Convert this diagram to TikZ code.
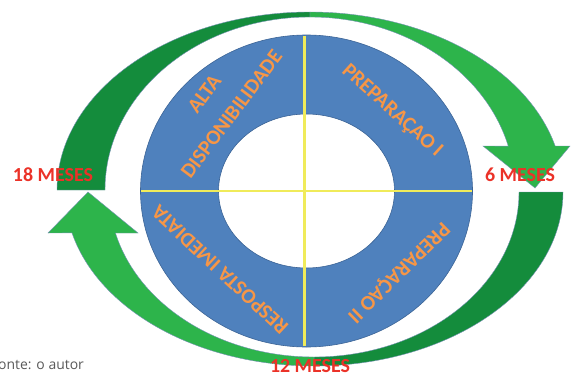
\documentclass[tikz,border=0pt]{standalone}
\usepackage{fontspec}
\newfontfamily\carlito{Carlito}
\newfontfamily\notefont{Open Sans}
\usepackage{tikz}
\usetikzlibrary{positioning, calc}
\definecolor{ringblue}{RGB}{79,129,189}
\definecolor{ringedge}{RGB}{60,100,150}
\definecolor{crossyellow}{RGB}{240,235,90}
\definecolor{phaseorange}{RGB}{247,150,70}
\definecolor{greendark}{RGB}{20,140,60}
\definecolor{greenlight}{RGB}{45,180,75}
\definecolor{monthred}{RGB}{235,50,40}
\tikzset{
  ringfill/.style={fill=ringblue,draw=ringedge,line width=0.6pt,even odd rule},
  crossline/.style={draw=crossyellow,line width=2.6pt},
  arrowdark/.style={fill=greendark,draw=ringedge!70,line width=0.4pt},
  arrowlight/.style={fill=greenlight,draw=ringedge!70,line width=0.4pt},
  phaselabel/.style={text=phaseorange,font=\carlito\bfseries\fontsize{21}{23}\selectfont,align=center,inner sep=0pt},
  monthlabel/.style={text=monthred,font=\carlito\bfseries\fontsize{20}{22}\selectfont,inner sep=0pt},
  notelabel/.style={text=black!65,font=\notefont\fontsize{14}{16}\selectfont,inner sep=0pt}
}

\begin{document}
\begin{tikzpicture}[x=1bp,y=1bp]
  \useasboundingbox (0,0) rectangle (571,374);

  %% centres
  \coordinate (cring) at (306.5,183);
  \coordinate (ctop) at (310,184);
  \coordinate (cbot) at (314,182);

  %% upper arrow (18 -> 6 meses)
  \filldraw[arrowdark] ([shift={(ctop)}]180:253 and 178)
    arc[start angle=180,end angle=90,x radius=253,y radius=178]
    -- ([shift={(ctop)}]90:205 and 173)
    arc[start angle=90,end angle=180,x radius=205,y radius=173] -- cycle;
  \filldraw[arrowlight] ([shift={(ctop)}]90:253 and 178)
    arc[start angle=90,end angle=14.3,x radius=253,y radius=178]
    -- (570,228) -- (535,186) -- (483,228)
    -- ([shift={(ctop)}]14.7:205 and 173)
    arc[start angle=14.7,end angle=90,x radius=205,y radius=173] -- cycle;

  %% lower arrow (6 -> 12 -> 18 meses)
  \filldraw[arrowdark] ([shift={(cbot)}]0:249 and 174)
    arc[start angle=0,end angle=-90,x radius=249,y radius=174]
    -- ([shift={(cbot)}]-90:205 and 165)
    arc[start angle=-90,end angle=0,x radius=205,y radius=165] -- cycle;
  \filldraw[arrowlight] ([shift={(cbot)}]-90:249 and 174)
    arc[start angle=-90,end angle=-166.4,x radius=249,y radius=174]
    -- (48,141) -- (88,182) -- (138,141)
    -- ([shift={(cbot)}]-165.6:205 and 165)
    arc[start angle=-165.6,end angle=-90,x radius=205,y radius=165] -- cycle;

  %% ring
  \filldraw[ringfill] (cring) ellipse[x radius=166,y radius=156]
    (cring) ellipse[x radius=88,y radius=77];
  \draw[crossline] ([xshift=-166]cring) -- ([xshift=166]cring);
  \draw[crossline] ([xshift=-2,yshift=156]cring) -- ([xshift=-2,yshift=-156]cring);

  %% phases
  \node[phaselabel,rotate=53] (alta) at (218,270) {ALTA\\[11bp]DISPONIBILIDADE};
  \node[phaselabel,rotate=-42] (prep1) at (392,263) {PREPARAÇAO I};
  \node[phaselabel,rotate=224.4] (prep2) at (398,102) {PREPARAÇAO II};
  \node[phaselabel,rotate=137] (resp) at (220,104) {RESPOSTA IMEDIATA};

  %% months
  \node[monthlabel] (m18) at (53,199) {18 MESES};
  \node[monthlabel] (m6) at (520,199) {6 MESES};
  \node[monthlabel] (m12) at (310,8) {12 MESES};

  \node[notelabel,anchor=west] (fonte) at (-2,9) {onte: o autor};
\end{tikzpicture}
\end{document}
